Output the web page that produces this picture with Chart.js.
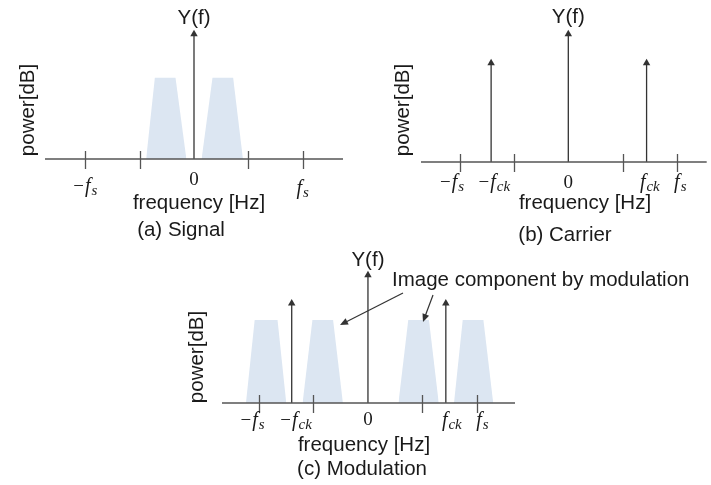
<!DOCTYPE html>
<html>
<head>
<meta charset="utf-8">
<script src="https://cdn.jsdelivr.net/npm/chart.js@4/dist/chart.umd.min.js"></script>
<style>
body { margin: 0; background: #fff; }
canvas { position: absolute; }
</style>
</head>
<body>
<canvas id="chartA" width="360" height="250" style="left:0;top:0"></canvas>
<canvas id="chartB" width="351" height="250" style="left:360px;top:0"></canvas>
<canvas id="chartC" width="531" height="245" style="left:180px;top:240px"></canvas>
<script>
// Data: frequency in units of fs, height relative to the signal band
// bands are [bottom-left, top-left, top-right, bottom-right]
var signalBands = [[-0.44, -0.36, -0.17, -0.07], [0.07, 0.17, 0.36, 0.45]];
var signalArrowFreqs = [0];
var signalArrowHeights = [1.54];

var carrierArrowFreqs = [-0.71, 0, 0.72];
var carrierArrowHeights = [1.19, 1.54, 1.19];

var modBands = [[-1.12, -1.04, -0.83, -0.75], [-0.60, -0.51, -0.32, -0.23],
                [0.28, 0.37, 0.56, 0.65], [0.79, 0.87, 1.06, 1.15]];
var modArrowFreqs = [-0.70, 0, 0.715];
var modArrowHeights = [1.20, 1.54, 1.20];

var bandHeight = 1;
var tickFreqs = [-1, -0.5, 0.5, 1];

var signalTickLabels = ['−f_s', '0', 'f_s'];
var signalLabelAt = [-1, 0, 1];
var carrierTickLabels = ['−f_s', '−f_ck', '0', 'f_ck', 'f_s'];
var carrierLabelAt = [-1.07, -0.68, 0, 0.75, 1.03];
var modTickLabels = ['−f_s', '−f_ck', '0', 'f_ck', 'f_s'];
var modLabelAt = [-1.06, -0.66, 0, 0.77, 1.05];

var bandColor = 'rgb(220, 230, 242)';
var lineColor = '#333';
var axisColor = '#555';
var textColor = '#1a1a1a';
var textFont = '20.5px "Liberation Sans"';

function bandDataset(b) {
    return {
        data: [{x: b[0], y: 0}, {x: b[1], y: bandHeight}, {x: b[2], y: bandHeight}, {x: b[3], y: 0}],
        fill: 'origin',
        backgroundColor: bandColor,
        borderWidth: 0,
        pointRadius: 0,
        tension: 0,
        clip: false
    };
}

function arrowDataset(f, h) {
    return {
        data: [{x: f, y: 0}, {x: f, y: h}],
        borderColor: lineColor,
        borderWidth: 1.3,
        fill: false,
        pointStyle: 'triangle',
        pointRadius: [0, 4.3],
        pointBackgroundColor: lineColor,
        pointBorderColor: lineColor,
        pointBorderWidth: 0,
        clip: false
    };
}

// draws "−f_s" style labels: italic f with subscript
function drawMathLabel(ctx, text, cx, baseY) {
    var parts = text.split('_');
    var main = parts[0];
    var sub = parts[1] || '';
    var minus = '';
    if (main.charAt(0) === '−') { minus = '−'; main = main.slice(1); }
    var fMinus = '19px "Liberation Serif"';
    var fMain = main === '0' ? '19px "Liberation Serif"' : 'italic 20px "Liberation Serif"';
    var fSub = 'italic 15px "Liberation Serif"';
    ctx.font = fMinus; var wMinus = minus ? ctx.measureText(minus).width + 1 : 0;
    ctx.font = fMain; var wMain = ctx.measureText(main).width;
    ctx.font = fSub; var wSub = sub ? ctx.measureText(sub).width + 1 : 0;
    var x = cx - (wMinus + wMain + wSub) / 2;
    ctx.fillStyle = textColor;
    ctx.textAlign = 'left';
    ctx.textBaseline = 'alphabetic';
    if (minus) { ctx.font = fMinus; ctx.fillText(minus, x, baseY); x += wMinus; }
    ctx.font = fMain; ctx.fillText(main, x, baseY); x += wMain + 1;
    if (sub) { ctx.font = fSub; ctx.fillText(sub, x, baseY + 3); }
}

function drawArrow(ctx, x1, y1, x2, y2) {
    var a = Math.atan2(y2 - y1, x2 - x1);
    ctx.strokeStyle = lineColor;
    ctx.fillStyle = lineColor;
    ctx.lineWidth = 1.2;
    ctx.beginPath();
    ctx.moveTo(x1, y1);
    ctx.lineTo(x2 - 5 * Math.cos(a), y2 - 5 * Math.sin(a));
    ctx.stroke();
    ctx.beginPath();
    ctx.moveTo(x2, y2);
    ctx.lineTo(x2 - 8 * Math.cos(a) + 3.5 * Math.sin(a), y2 - 8 * Math.sin(a) - 3.5 * Math.cos(a));
    ctx.lineTo(x2 - 8 * Math.cos(a) - 3.5 * Math.sin(a), y2 - 8 * Math.sin(a) + 3.5 * Math.cos(a));
    ctx.closePath();
    ctx.fill();
}

// axis, ticks and texts of one panel
var panelPlugin = {
    id: 'panel',
    afterDatasetsDraw: function(chart) {
        var p = chart.options.plugins.panel;
        var ctx = chart.ctx;
        var xs = chart.scales.x;
        var y0 = chart.scales.y.getPixelForValue(0);
        var area = chart.chartArea;
        ctx.save();
        ctx.strokeStyle = axisColor;
        ctx.lineWidth = 1.3;
        ctx.beginPath();
        ctx.moveTo(area.left, y0);
        ctx.lineTo(area.right, y0);
        tickFreqs.forEach(function(f) {
            var x = Math.round(xs.getPixelForValue(f)) + 0.5;
            ctx.moveTo(x, y0 - 8);
            ctx.lineTo(x, y0 + 10);
        });
        ctx.stroke();

        p.labels.forEach(function(t, i) {
            drawMathLabel(ctx, t, xs.getPixelForValue(p.labelAt[i]), y0 + p.labelDrop[i]);
        });

        ctx.fillStyle = textColor;
        ctx.font = textFont;
        ctx.textBaseline = 'middle';
        ctx.textAlign = 'center';
        ctx.fillText('Y(f)', xs.getPixelForValue(0), p.yfY);
        ctx.fillText('frequency [Hz]', p.freq[0], p.freq[1]);
        ctx.fillText(p.caption, p.cap[0], p.cap[1]);
        ctx.save();
        ctx.translate(p.power[0], p.power[1]);
        ctx.rotate(-Math.PI / 2);
        ctx.fillText('power[dB]', 0, 0);
        ctx.restore();

        if (p.note) {
            ctx.textAlign = 'left';
            ctx.fillText(p.note.text, p.note.x, p.note.y);
            p.note.arrows.forEach(function(a) { drawArrow(ctx, a[0], a[1], a[2], a[3]); });
        }
        ctx.restore();
    }
};

function makeChart(id, datasets, xMin, xMax, pad, panel) {
    return new Chart(document.getElementById(id).getContext('2d'), {
        type: 'line',
        data: { datasets: datasets },
        options: {
            responsive: false,
            animation: false,
            layout: { padding: pad },
            plugins: { legend: { display: false }, tooltip: { enabled: false }, panel: panel },
            scales: {
                x: { type: 'linear', min: xMin, max: xMax, display: false },
                y: { min: 0, max: 1.54, display: false }
            }
        },
        plugins: [panelPlugin]
    });
}

// (a) Signal
var dsA = signalBands.map(bandDataset).concat(signalArrowFreqs.map(function(f, i) {
    return arrowDataset(f, signalArrowHeights[i]);
}));
makeChart('chartA', dsA, -1.37, 1.37, {left: 45, right: 17, top: 34, bottom: 91}, {
    labels: signalTickLabels, labelAt: signalLabelAt, labelDrop: [33, 26, 35],
    yfY: 18, freq: [199, 203], caption: '(a) Signal', cap: [181, 230], power: [28, 110]
});

// (b) Carrier
var dsB = carrierArrowFreqs.map(function(f, i) { return arrowDataset(f, carrierArrowHeights[i]); });
makeChart('chartB', dsB, -1.355, 1.273, {left: 61, right: 1, top: 34, bottom: 88}, {
    labels: carrierTickLabels, labelAt: carrierLabelAt, labelDrop: [26, 26, 26, 26, 26],
    yfY: 17, freq: [225, 203], caption: '(b) Carrier', cap: [205, 235], power: [43, 110]
});

// (c) Modulation
var dsC = modBands.map(bandDataset).concat(modArrowFreqs.map(function(f, i) {
    return arrowDataset(f, modArrowHeights[i]);
}));
makeChart('chartC', dsC, -1.34, 1.35, {left: 42, right: 196, top: 35, bottom: 82}, {
    labels: modTickLabels, labelAt: modLabelAt, labelDrop: [23, 23, 22, 23, 23],
    yfY: 20, freq: [184, 205], caption: '(c) Modulation', cap: [182, 229], power: [17, 117],
    note: {
        text: 'Image component by modulation', x: 212, y: 40,
        arrows: [[223, 53, 160, 85], [253, 55, 243, 82]]
    }
});
</script>
</body>
</html>
